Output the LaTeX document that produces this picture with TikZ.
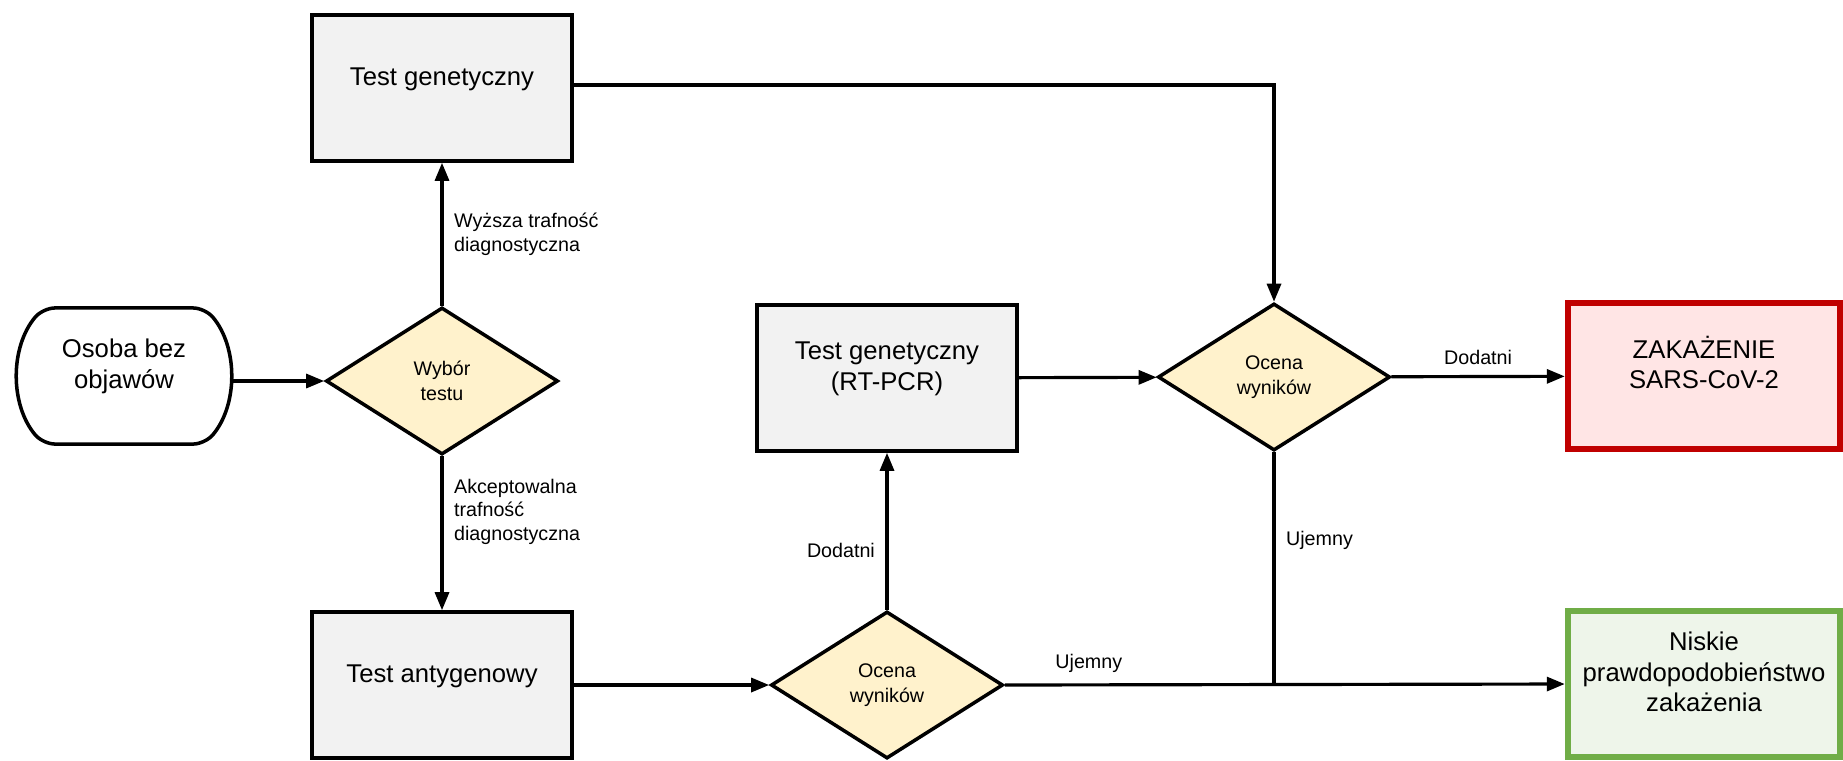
\documentclass[tikz,border=0pt]{standalone}
\usepackage{fontspec}
\setmainfont{Liberation Sans}
\usetikzlibrary{arrows.meta, positioning, shapes.geometric, shapes.misc}
\definecolor{boxgray}{HTML}{F2F2F2}
\definecolor{decfill}{HTML}{FFF2CC}
\definecolor{posline}{HTML}{C00000}
\definecolor{posfill}{HTML}{FFE5E5}
\definecolor{negline}{HTML}{70AD47}
\definecolor{negfill}{HTML}{EEF5EA}
% box text sits a little above the middle
\newcommand{\uptext}[1]{\raisebox{0.09cm}[\height][\depth]{\begin{tabular}{@{}c@{}}#1\end{tabular}}}
\tikzset{
    tbox/.style={rectangle, draw, line width=1pt, fill=boxgray, minimum width=2.6cm, minimum height=1.46cm, align=center, font=\fontsize{7.3}{8.6}\selectfont},
    dnode/.style={diamond, draw, line width=1pt, fill=decfill, minimum width=2.32cm, minimum height=1.47cm, inner sep=1pt, aspect=1.6, align=center, font=\fontsize{5.6}{7.2}\selectfont},
    startnode/.style={rounded rectangle, rounded rectangle arc length=80, rounded corners=1.2mm, draw, line width=1pt, minimum width=2.19cm, minimum height=1.36cm, align=center, font=\fontsize{7.3}{8.6}\selectfont},
    posbox/.style={tbox, draw=posline, fill=posfill, line width=1.8pt, minimum width=2.72cm},
    negbox/.style={tbox, draw=negline, fill=negfill, line width=1.8pt, minimum width=2.72cm},
    flow/.style={draw, line width=0.9pt, -{Triangle[length=1.8mm, width=1.4mm]}},
    lbl/.style={font=\fontsize{5.6}{6.7}\selectfont, align=left, inner sep=3pt},
}
\begin{document}
\begin{tikzpicture}[x=0.01cm, y=-0.01cm]
    \useasboundingbox (0,0) rectangle (1843,760);
    \node[startnode] (osoba) at (124,376) {\uptext{Osoba bez\\objawów}};
    \node[dnode] (wybor) at (442,381) {Wybór\\testu};
    \node[tbox] (gen) at (442,88) {\uptext{Test genetyczny}};
    \node[tbox] (anty) at (442,685) {\uptext{Test antygenowy}};
    \node[dnode] (ocena1) at (887,685) {Ocena\\wyników};
    \node[tbox] (pcr) at (887,378) {\uptext{Test genetyczny\\(RT-PCR)}};
    \node[dnode] (ocena2) at (1274,377) {Ocena\\wyników};
    \node[posbox] (zak) at (1704,376) {\uptext{ZAKAŻENIE\\SARS-CoV-2}};
    \node[negbox] (nisk) at (1704,684) {\uptext{Niskie\\prawdopodobieństwo\\zakażenia}};
    \coordinate (join) at (ocena2.south |- ocena1.east);

    \draw[flow] (osoba.east |- wybor.west) -- (wybor.west);
    \draw[flow] (wybor) -- node[lbl, right] {Wyższa trafność\\diagnostyczna} (gen);
    \draw[flow] (wybor) -- node[lbl, right, pos=0.36] {Akceptowalna\\trafność\\diagnostyczna} (anty);
    \draw[flow] (anty) -- (ocena1);
    \draw[flow] (ocena1) -- node[lbl, left, pos=0.38] {Dodatni} (pcr);
    \draw[flow] (pcr) -- (ocena2);
    \draw[flow] ([yshift=0.03cm]gen.east) -| (ocena2.north);
    \draw[flow] (ocena2) -- node[lbl, above] {Dodatni} (zak);
    \draw[flow] (ocena1.east) -- node[lbl, above, pos=0.15] {Ujemny} (nisk.west);
    \draw[line width=0.9pt] (ocena2.south) -- node[lbl, right, pos=0.38] {Ujemny} (join);
\end{tikzpicture}
\end{document}
